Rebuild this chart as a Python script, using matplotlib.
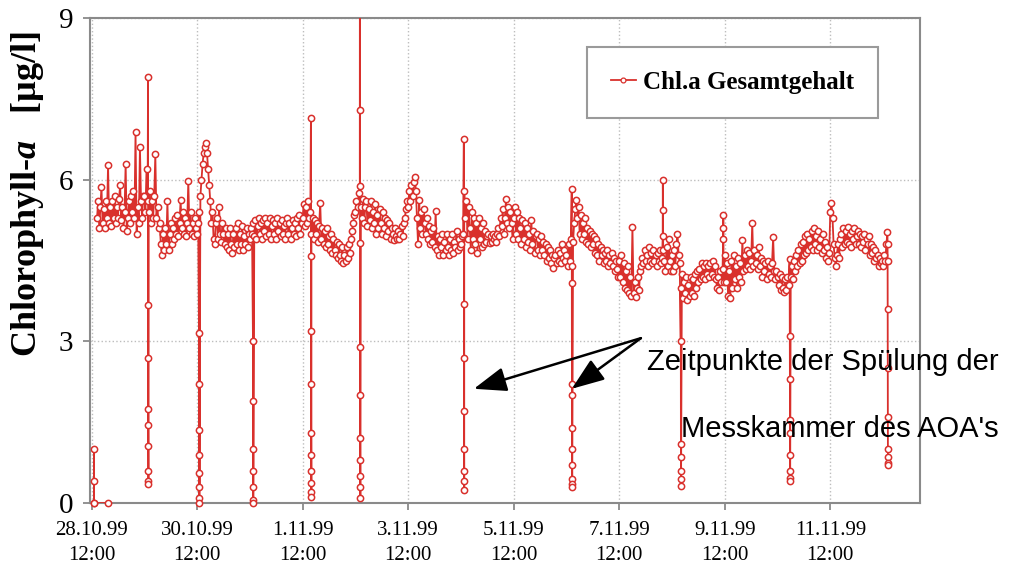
import numpy as np
import matplotlib.pyplot as plt
from matplotlib.lines import Line2D

plt.rcParams['font.family'] = ['Liberation Serif', 'DejaVu Serif']
plt.rcParams['mathtext.fontset'] = 'custom'
plt.rcParams['mathtext.rm'] = 'Liberation Serif:bold'
plt.rcParams['mathtext.bfit'] = 'Liberation Serif:italic:bold'

# half-hourly readings (ug/l); each list starts at 12:00 of that date,
# 28.10. starts at 14:30
oct28 = [5.3, 5.6, 5.1, 5.5, 5.87, 5.2, 5.45, 5.1, 5.6, 5.3, 6.27, 5.2, 5.5, 5.15,
         5.6, 5.3, 5.7, 5.2, 5.5, 5.3, 5.65, 5.9, 5.25, 5.5, 5.1, 5.4, 6.3, 5.05,
         5.3, 5.6, 5.2, 5.7, 5.4, 5.8, 5.3, 6.88, 5.0, 5.5, 5.2, 6.6, 5.6, 5.3, 5.7]
oct29 = [5.7, 5.4, 6.2, 5.6, 5.4, 5.8, 5.2, 5.6, 5.3, 5.7, 6.47, 5.3, 5.5, 5.1,
         5.2, 4.8, 4.6, 5.0, 4.7, 5.1, 4.8, 5.6, 4.7, 5.0, 5.2, 4.8, 5.1, 4.9,
         5.3, 5.0, 5.35, 4.95, 5.2, 5.62, 5.1, 5.4, 5.0, 5.3, 4.95, 5.2, 5.97, 5.1,
         5.4, 5.0, 5.2, 4.95, 5.3, 5.1]
oct30 = [5.0, 5.2, 5.4, 5.7, 6.0, 6.3, 6.5, 6.6, 6.68, 6.5, 6.2, 5.9, 5.6, 5.2,
         5.4, 4.9, 4.8, 5.2, 5.3, 4.9, 5.5, 5.0, 4.85, 5.2, 5.0, 4.8, 5.1, 4.75,
         5.0, 4.7, 5.1, 4.8, 4.65, 5.0, 4.75, 5.1, 4.8, 5.2, 4.7, 5.0, 4.8, 5.15,
         4.7, 4.95, 4.8, 5.1, 4.75, 5.0]
oct31 = [4.9, 5.1, 5.0, 5.2, 4.95, 5.25, 4.9, 5.15, 5.3, 5.0, 5.2, 4.9, 5.25, 5.05,
         5.3, 4.95, 5.2, 5.0, 5.3, 4.9, 5.15, 5.25, 5.0, 5.2, 4.9, 5.3, 5.05, 5.2,
         4.95, 5.25, 5.0, 5.15, 4.9, 5.2, 5.3, 5.0, 5.2, 4.9, 5.1, 5.25, 5.0, 5.2,
         4.95, 5.3, 5.1, 5.35, 5.0, 5.2]
nov01 = [5.3, 5.55, 5.15, 5.5, 5.2, 5.6, 5.3, 5.4, 5.0, 5.3, 4.9, 5.25, 5.0, 5.2,
         4.85, 5.15, 5.57, 4.9, 5.1, 4.8, 5.05, 4.75, 5.1, 4.8, 4.95, 4.7, 5.0, 4.65,
         4.9, 4.7, 4.6, 4.85, 4.55, 4.8, 4.6, 4.5, 4.75, 4.45, 4.6, 4.5, 4.75, 4.55,
         4.8, 4.65, 4.9, 5.05, 5.2, 5.35]
nov02 = [5.4, 5.6, 5.5, 5.75, 5.88, 5.5, 5.3, 5.65, 5.2, 5.5, 5.6, 5.15, 5.45, 5.25,
         5.6, 5.1, 5.4, 5.2, 5.55, 5.0, 5.35, 5.1, 5.45, 5.2, 5.0, 5.4, 5.1, 5.3,
         4.95, 5.25, 5.05, 5.2, 4.9, 5.1, 5.0, 4.88, 5.1, 4.95, 4.9, 5.05, 4.9, 5.0,
         5.15, 4.95, 5.2, 5.3, 5.45, 5.6]
nov03 = [5.5, 5.8, 5.6, 5.9, 5.7, 5.95, 6.05, 5.8, 5.3, 4.8, 5.62, 5.1, 5.4, 5.0,
         5.45, 5.2, 5.0, 5.3, 4.9, 5.15, 4.8, 5.05, 4.85, 5.1, 4.75, 5.42, 4.7, 4.95,
         4.6, 4.9, 4.75, 5.0, 4.6, 4.85, 4.7, 5.0, 4.75, 4.6, 4.9, 4.7, 5.0, 4.65,
         4.85, 4.75, 5.05, 4.7, 4.9, 4.75]
nov04 = [4.8, 4.95, 5.0, 5.8, 5.3, 5.6, 4.9, 5.5, 5.1, 4.7, 5.4, 4.9, 5.3, 4.8,
         5.2, 4.65, 5.3, 4.9, 5.1, 4.75, 5.2, 4.8, 5.05, 4.85, 4.95, 5.0, 4.82, 4.95,
         4.85, 5.0, 4.9, 4.95, 4.85, 5.0, 5.1, 4.95, 5.3, 5.15, 5.45, 5.0, 5.3, 5.64,
         5.2, 5.5, 5.1, 5.4, 5.2, 4.9]
nov05 = [5.3, 5.5, 5.0, 5.4, 4.9, 5.3, 5.1, 4.8, 5.25, 4.9, 5.2, 4.75, 5.1, 4.85,
         5.0, 4.7, 5.25, 4.8, 5.05, 4.65, 4.95, 5.0, 4.7, 4.9, 4.6, 4.95, 4.7, 4.85,
         4.6, 4.8, 4.5, 4.75, 4.55, 4.7, 4.45, 4.6, 4.36, 4.55, 4.6, 4.45, 4.7, 4.5,
         4.65, 4.45, 4.8, 4.55, 4.7, 4.5]
nov06 = [4.6, 4.4, 4.8, 4.5, 4.9, 4.4, 4.85, 5.2, 5.45, 5.62, 5.3, 5.5, 5.0, 5.35,
         4.9, 5.2, 5.0, 5.3, 4.85, 5.1, 4.8, 5.05, 4.75, 5.0, 4.8, 4.95, 4.65, 4.9,
         4.6, 4.8, 4.5, 4.75, 4.6, 4.7, 4.45, 4.65, 4.5, 4.7, 4.4, 4.6, 4.45, 4.65,
         4.4, 4.55, 4.3, 4.5, 4.35, 4.2]
nov07 = [4.5, 4.2, 4.6, 4.1, 4.45, 4.0, 4.3, 3.95, 4.4, 3.9, 4.2, 3.85, 5.12, 3.9,
         4.1, 3.82, 4.0, 4.2, 3.95, 4.3, 4.4, 4.55, 4.45, 4.7, 4.5, 4.6, 4.4, 4.75,
         4.5, 4.65, 4.45, 4.7, 4.5, 4.6, 4.4, 4.65, 4.5, 4.7, 4.45, 4.55, 4.7, 4.5,
         4.3, 4.75, 4.4, 4.9, 4.5, 4.3]
nov08 = [4.6, 4.3, 4.7, 4.4, 4.8, 5.0, 4.6, 4.45, 4.0, 4.25, 3.8, 4.1, 3.9, 4.2,
         3.77, 4.05, 3.85, 4.2, 3.9, 4.15, 3.85, 4.25, 4.0, 4.3, 4.1, 4.35, 4.15, 4.45,
         4.2, 4.4, 4.15, 4.45, 4.25, 4.4, 4.2, 4.45, 4.25, 4.5, 4.2, 4.4, 4.15, 4.0,
         4.2, 3.95, 4.3, 4.1, 4.35, 4.1]
nov09 = [4.6, 4.1, 4.45, 3.85, 4.3, 3.8, 4.5, 4.0, 4.6, 4.15, 4.4, 4.0, 4.55, 4.2,
         4.45, 4.1, 4.88, 4.3, 4.6, 4.35, 4.7, 4.4, 4.65, 4.35, 4.5, 5.2, 4.4, 4.7,
         4.45, 4.6, 4.35, 4.75, 4.4, 4.55, 4.2, 4.5, 4.3, 4.45, 4.15, 4.5, 4.25, 4.4,
         4.2, 4.45, 4.93, 4.3, 4.15, 4.3]
nov10 = [4.2, 4.05, 4.25, 3.95, 4.2, 4.0, 3.92, 4.15, 3.95, 4.2, 4.05, 4.53, 4.2, 4.4,
         4.15, 4.5, 4.3, 4.6, 4.4, 4.7, 4.45, 4.8, 4.5, 4.85, 4.6, 4.95, 4.65, 5.0,
         4.7, 4.9, 4.75, 5.05, 4.7, 5.1, 4.8, 4.95, 4.7, 5.05, 4.75, 4.9, 4.65, 5.0,
         4.7, 4.85, 4.55, 4.75, 4.5, 4.65]
nov11 = [5.4, 5.57, 5.3, 4.8, 4.55, 4.4, 4.6, 4.8, 4.55, 4.9, 5.0, 4.75, 5.1, 4.8,
         5.05, 4.85, 5.12, 4.8, 5.0, 4.75, 5.05, 4.9, 5.1, 4.8, 4.95, 5.05, 4.8, 5.0,
         4.75, 4.95, 4.85, 5.0, 4.7, 4.9, 4.8, 4.95, 4.6, 4.8, 4.65, 4.75, 4.5, 4.7,
         4.55, 4.6, 4.4, 4.55, 4.45, 4.5]
nov12 = [4.4, 4.6, 4.5, 4.8, 5.03]

# flushing of the measuring chamber: days after 28.10. 12:00 and readings
flush_days = [1.07, 2.036, 3.059, 4.157, 5.085, 7.055, 9.10, 10.824, 11.166,
              11.97, 13.232, 15.085]
flush_vals = [
    [7.9, 3.67, 2.69, 1.75, 1.45, 1.05, 0.6, 0.4, 0.35],
    [3.15, 2.2, 1.35, 0.9, 0.55, 0.3, 0.1, 0.0],
    [3.0, 1.9, 1.0, 0.6, 0.3, 0.05, 0.0],
    [7.14, 4.58, 3.2, 2.2, 1.3, 0.9, 0.6, 0.37, 0.2, 0.12],
    [10.5, 7.29, 4.82, 2.9, 2.0, 1.2, 0.8, 0.5, 0.3, 0.1],
    [6.75, 3.7, 2.7, 1.7, 1.0, 0.6, 0.4, 0.25],
    [5.83, 4.08, 2.2, 2.0, 1.4, 1.0, 0.7, 0.45, 0.35, 0.3],
    [4.95, 5.44, 6.0],
    [3.0, 1.1, 0.85, 0.6, 0.45, 0.32],
    [4.9, 5.1, 5.34],
    [3.1, 2.3, 1.55, 1.3, 0.9, 0.6, 0.47, 0.4],
    [4.8, 4.5, 3.6, 2.5, 1.6, 1.0, 0.85, 0.75, 0.7],
]

# readings before the instrument was running
start_days = [0.04, 0.04, 0.04, 0.04, 0.31]
start_vals = [0.0, 1.0, 0.4, 0.0, 0.0]

tick_days = [0, 2, 4, 6, 8, 10, 12, 14]
tick_labels = ['28.10.99\n12:00', '30.10.99\n12:00', '1.11.99\n12:00',
               '3.11.99\n12:00', '5.11.99\n12:00', '7.11.99\n12:00',
               '9.11.99\n12:00', '11.11.99\n12:00']

RED = '#d9302c'

# build time axis (days after 28.10.99 12:00)
days = [oct28, oct29, oct30, oct31, nov01, nov02, nov03, nov04,
        nov05, nov06, nov07, nov08, nov09, nov10, nov11, nov12]
t_list, v_list = [], []
for k, vals in enumerate(days):
    first_hour = 2.5 if k == 0 else 0.0
    for i, val in enumerate(vals):
        t_list.append(k + (first_hour + 0.5 * i) / 24.0)
        v_list.append(val)
for d, vals in zip(flush_days, flush_vals):
    for i, val in enumerate(vals):
        t_list.append(d + i * 0.001)
        v_list.append(val)
t = np.array(t_list)
v = np.array(v_list)
order = np.argsort(t, kind='stable')
t, v = t[order], v[order]

fig = plt.figure(figsize=(10.11, 5.69), dpi=100)
ax = fig.add_axes([0.089, 0.116, 0.821, 0.852])

mk = dict(ls='none', marker='o', ms=4.5, mfc='white', mec=RED, mew=1.1,
          zorder=4, clip_on=False)
ax.plot(start_days, start_vals, color=RED, lw=1.3, zorder=3)
ax.plot(start_days, start_vals, **mk)
ax.plot(t, v, color=RED, lw=1.3, zorder=3)
inside = v <= 9
ax.plot(t[inside], v[inside], **mk)

ax.set_xlim(-0.03, 15.7)
ax.set_ylim(0, 9)
ax.set_yticks([0, 3, 6, 9])
ax.set_xticks(tick_days)
ax.set_xticklabels(tick_labels, fontsize=15)
for lab in ax.get_xticklabels():
    lab.set_linespacing(1.4)
ax.tick_params(axis='y', labelsize=21, pad=7)
ax.tick_params(direction='out', length=5, width=1.2, color='#808080')
ax.tick_params(axis='x', pad=8)
ax.grid(True, ls=':', color='#bdbdbd', lw=1.0)
ax.set_axisbelow(True)
for s in ax.spines.values():
    s.set_color('#8a8a8a')
    s.set_linewidth(1.5)

fig.text(0.027, 0.66, r'Chlorophyll-$\mathbfit{a}$   [µg/l]', rotation=90,
         ha='center', va='center', fontsize=26, fontweight='bold')

handle = Line2D([], [], color=RED, lw=1.3, marker='o', ms=3.5, mfc='white',
                mec=RED, mew=0.9)
leg = ax.legend([handle], ['Chl.a Gesamtgehalt'], loc='center',
                bbox_to_anchor=(0.774, 0.867), fancybox=False, framealpha=1,
                edgecolor='#9a9a9a', borderpad=0.95, handlelength=1.0,
                handletextpad=0.3, prop={'weight': 'bold', 'size': 18})
leg.get_frame().set_linewidth(1.5)

# arrows to two of the flushing events
tail = (10.41, 3.06)
for tip in [(7.245, 2.12), (9.10, 2.12)]:
    ax.annotate('', xy=tip, xytext=tail,
                arrowprops=dict(arrowstyle='-|>,head_length=0.8,head_width=0.3',
                                mutation_scale=25, color='black', lw=1.8,
                                shrinkA=0, shrinkB=0), zorder=6)

ann_font = ['Liberation Sans', 'DejaVu Sans']
fig.text(0.988, 0.35, 'Zeitpunkte der Spülung der', ha='right', va='baseline',
         fontsize=21, family=ann_font)
fig.text(0.988, 0.232, "Messkammer des AOA's", ha='right', va='baseline',
         fontsize=21, family=ann_font)

fig.savefig('out.png', dpi=100)
